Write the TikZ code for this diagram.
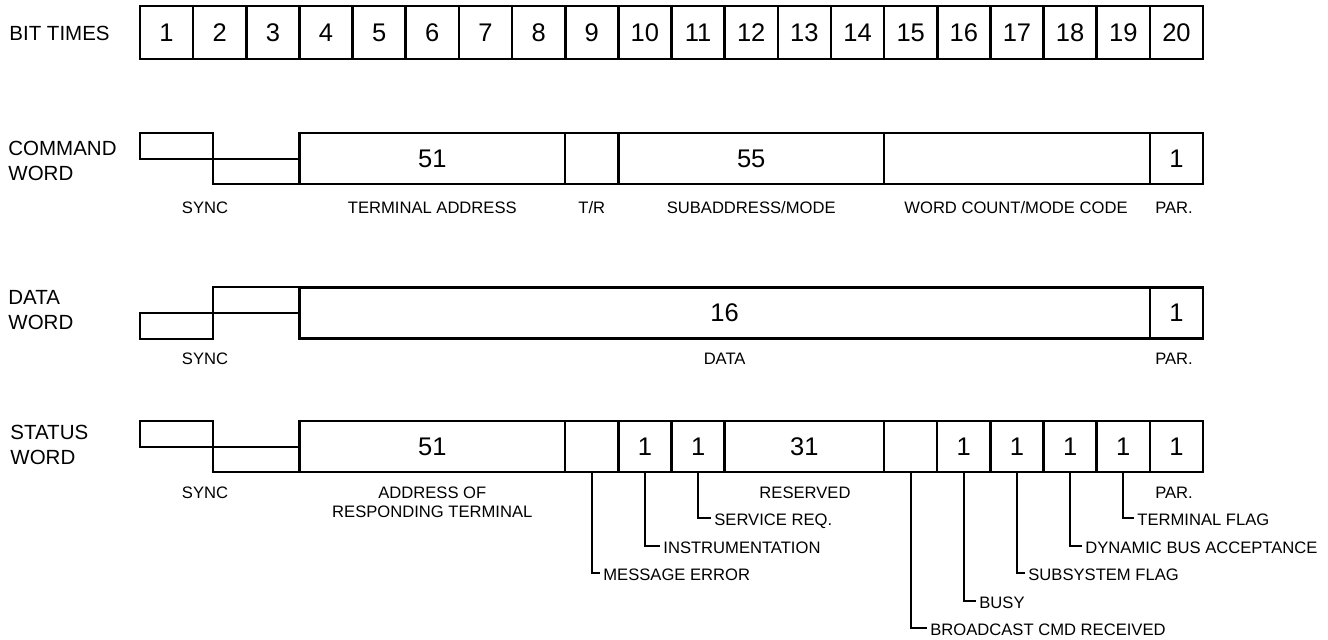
\documentclass[tikz,border=0pt]{standalone}
\usepackage{fontspec}
\setmainfont{Liberation Sans}

\newcommand{\bitw}{26.575pt}

\begin{document}
\begin{tikzpicture}[x=0.5pt, y=-0.5pt,
  bit/.style={draw, line width=1.3pt, inner sep=0pt, outer sep=0pt, minimum width=\bitw, minimum height=26.5pt, font=\fontsize{12.75}{15}\selectfont},
  field/.style={draw, line width=1.2pt, inner sep=0pt, outer sep=0pt, minimum height=25.5pt, font=\fontsize{12.75}{15}\selectfont},
  sync/.style={line width=1.2pt},
  lbl/.style={inner sep=0pt, font=\fontsize{8.3}{9.5}\selectfont},
  tag/.style={lbl, text height=0.716em, text depth=0pt},
  flag/.style={tag, anchor=west, inner xsep=1.5pt},
  wordname/.style={inner sep=0pt, anchor=north west, align=left, font=\fontsize{10.25}{12.5}\selectfont},
  leader/.style={line width=1pt},
]

\useasboundingbox (0,0) rectangle (1328,639) ;

% bit times
\node[tag, anchor=west, font=\fontsize{10.25}{12}\selectfont] (bitTimes) at (9,33) {BIT TIMES} ;
\foreach \i in {1,...,20}
  \node[bit] (bit\i) at ({140+53.15*(\i-0.5)},32.5) {\i} ;

% COMMAND WORD
\node[wordname] (cmdName) at (8,140.7) {COMMAND\\WORD} ;
\draw[sync] (140,133) rectangle (213,159) (213,159) rectangle (299.45,184) ;
\node[field, minimum width=5*\bitw] (cmdAddr) at (432.3,158.5) {51} ;
\node[field, minimum width=\bitw] (cmdTR) at (591.8,158.5) {} ;
\node[field, minimum width=5*\bitw] (cmdSub) at (751.2,158.5) {55} ;
\node[field, minimum width=5*\bitw] (cmdCount) at (1017.0,158.5) {} ;
\node[field, minimum width=\bitw] (cmdPar) at (1176.4,158.5) {1} ;

\path
(205,206) node[tag] (cmdSyncLbl) {SYNC}
(432.3,206) node[tag] (cmdAddrLbl) {TERMINAL ADDRESS}
(591.8,206) node[tag] (cmdTRLbl) {T/R}
(751.2,206) node[tag] (cmdSubLbl) {SUBADDRESS/MODE}
(1016,206) node[tag] (cmdCountLbl) {WORD COUNT/MODE CODE}
(1174,206) node[tag] (cmdParLbl) {PAR.}
;

% DATA WORD
\node[wordname] (dataName) at (8,289.7) {DATA\\WORD} ;
\draw[sync] (140,313) rectangle (213,339) (213,287) rectangle (299.45,313) ;
\node[field, minimum width=16*\bitw] (dataBits) at (724.65,313) {16} ;
\node[field, minimum width=\bitw] (dataPar) at (1176.4,313) {1} ;

\path
(205,357) node[tag] (dataSyncLbl) {SYNC}
(724.65,357) node[tag] (dataBitsLbl) {DATA}
(1174,357) node[tag] (dataParLbl) {PAR.}
;

% STATUS WORD
\node[wordname] (statName) at (10,424.7) {STATUS\\WORD} ;
\draw[sync] (140,421) rectangle (213,447) (213,447) rectangle (299.45,472) ;
\node[field, minimum width=5*\bitw] (stAddr) at (432.3,446.5) {51} ;
\node[field, minimum width=\bitw] (stMsg) at (591.8,446.5) {} ;
\node[field, minimum width=\bitw] (stInstr) at (644.9,446.5) {1} ;
\node[field, minimum width=\bitw] (stServ) at (698.1,446.5) {1} ;
\node[field, minimum width=3*\bitw] (stRes) at (804.4,446.5) {31} ;
\node[field, minimum width=\bitw] (stBcast) at (910.7,446.5) {} ;
\node[field, minimum width=\bitw] (stBusy) at (963.8,446.5) {1} ;
\node[field, minimum width=\bitw] (stSubs) at (1017.0,446.5) {1} ;
\node[field, minimum width=\bitw] (stDyn) at (1070.1,446.5) {1} ;
\node[field, minimum width=\bitw] (stTerm) at (1123.3,446.5) {1} ;
\node[field, minimum width=\bitw] (stPar) at (1176.4,446.5) {1} ;

\path
(205,491.5) node[tag] (stSyncLbl) {SYNC}
(432.3,486) node[lbl, anchor=north, align=center] (stAddrLbl) {ADDRESS OF\\RESPONDING TERMINAL}
(805,491.5) node[tag] (stResLbl) {RESERVED}
(1174,491.5) node[tag] (stParLbl) {PAR.}
;

% flag bits
\path
(711,518) node[flag] (servLbl) {SERVICE REQ.}
(1134,518) node[flag] (termLbl) {TERMINAL FLAG}
(660,546) node[flag] (instrLbl) {INSTRUMENTATION}
(1082,546) node[flag] (dynLbl) {DYNAMIC BUS ACCEPTANCE}
(600,573) node[flag] (msgLbl) {MESSAGE ERROR}
(1025,573) node[flag] (subsLbl) {SUBSYSTEM FLAG}
(976,601) node[flag] (busyLbl) {BUSY}
(927,628) node[flag] (bcastLbl) {BROADCAST CMD RECEIVED}
;

\foreach \f/\l in {stServ/servLbl, stTerm/termLbl, stInstr/instrLbl, stDyn/dynLbl,
  stMsg/msgLbl, stSubs/subsLbl, stBusy/busyLbl, stBcast/bcastLbl}
  \draw[leader] (\f.south) |- (\l.west) ;

\end{tikzpicture}
\end{document}
